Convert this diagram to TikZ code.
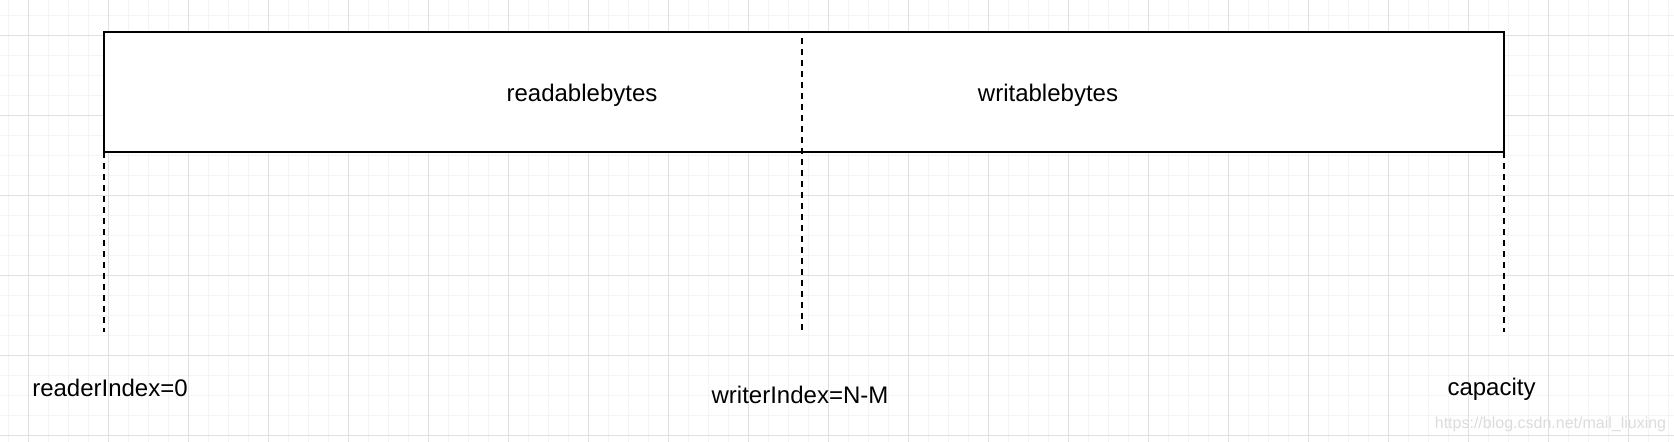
\documentclass[tikz,border=0pt]{standalone}
\usepackage{fontspec}
\setmainfont{Liberation Sans}
\definecolor{gridmajor}{HTML}{E0E0E0}
\definecolor{gridminor}{HTML}{F4F4F4}
\definecolor{wmark}{HTML}{DCDCDC}
\tikzset{
  lbl/.style={anchor=base, inner sep=0pt, font=\fontsize{12}{14}\selectfont},
  marker/.style={line width=1pt, dash pattern=on 3pt off 2.5pt},
  bufbox/.style={draw, line width=1pt, fill=white}
}
\begin{document}
\begin{tikzpicture}[x=0.5pt, y=-0.5pt]
\useasboundingbox (0,0) rectangle (1674,442);
\fill[white] (0,0) rectangle (1674,442);
% minor grid
\foreach \x in {8,28,...,1674} \draw[gridminor, line width=0.5pt] (\x,0) -- (\x,442);
\foreach \y in {16,36,...,442} \draw[gridminor, line width=0.5pt] (0,\y) -- (1674,\y);
% major grid
\foreach \x in {28,108,...,1674} \draw[gridmajor, line width=0.5pt] (\x,0) -- (\x,442);
\foreach \y in {36,116,...,442} \draw[gridmajor, line width=0.5pt] (0,\y) -- (1674,\y);
% buffer box
\draw[bufbox] (104,32) rectangle (1504,152);
\coordinate (bl) at (104,152);
\coordinate (br) at (1504,152);
\coordinate (mt) at (802,38);
\coordinate (lend) at (104,332);
\coordinate (mend) at (802,332);
\coordinate (rend) at (1504,332);
\draw[marker] (bl) -- (lend);
\draw[marker] (mt) -- (mend);
\draw[marker] (br) -- (rend);
% labels
\node[lbl] (rb) at (582,101.7) {readablebytes};
\node[lbl] (wb) at (1048,101.7) {writablebytes};
\node[lbl] (ri) at (110,396.7) {readerIndex=0};
\node[lbl] (wi) at (800,403.3) {writerIndex=N-M};
\node[lbl] (cap) at (1491.5,396) {capacity};
\node[anchor=base, inner sep=0pt, font=\fontsize{8}{10}\selectfont, text=wmark] (wm) at (1550.5,428.3) {https://blog.csdn.net/mail\_liuxing};
\end{tikzpicture}
\end{document}
